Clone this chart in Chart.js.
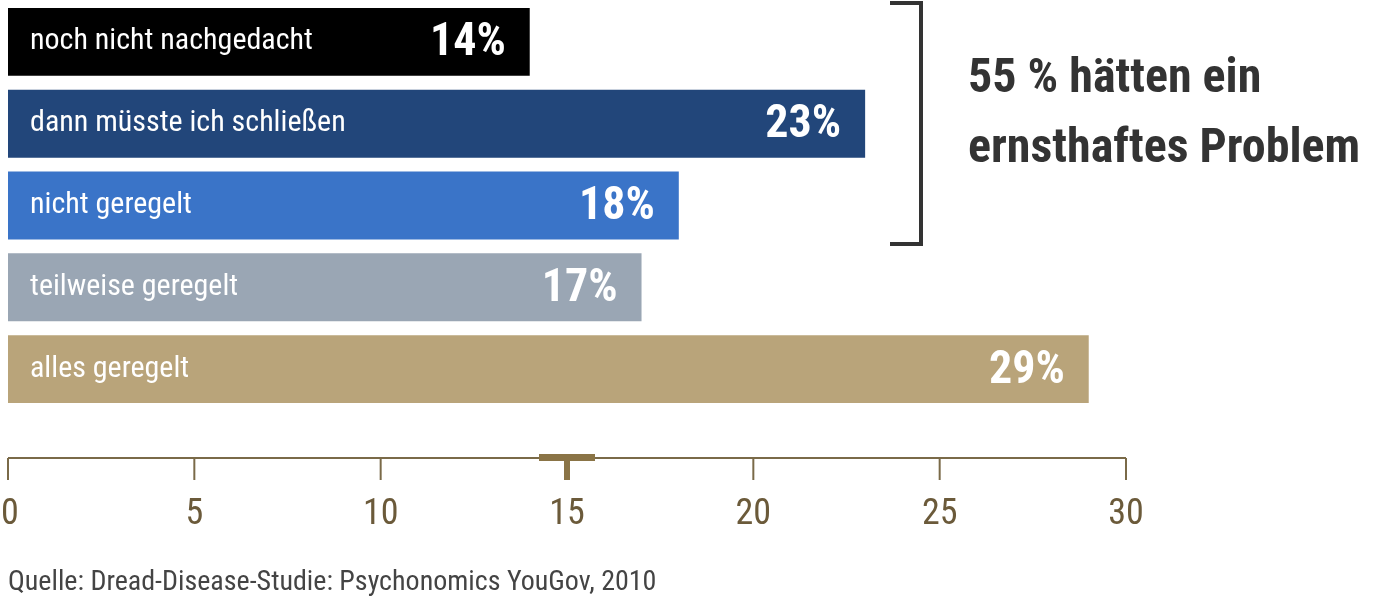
<!DOCTYPE html>
<html>
<head>
<meta charset="utf-8">
<script src="https://cdn.jsdelivr.net/npm/chart.js@4.4.1/dist/chart.umd.min.js"></script>
<style>
  html, body { margin: 0; padding: 0; background: #fff; }
  #wrap { position: relative; width: 1400px; height: 602px; }
</style>
</head>
<body>
<div id="wrap"><canvas id="c" width="1400" height="602"></canvas></div>
<script>
const categories = ["noch nicht nachgedacht", "dann müsste ich schließen", "nicht geregelt", "teilweise geregelt", "alles geregelt"];
const values     = [14, 23, 18, 17, 29];
const colours    = ["#000000", "#22467a", "#3a74c8", "#9aa6b4", "#b9a47a"];
const xTicks     = [0, 5, 10, 15, 20, 25, 30];
const markerAt   = 15;
const headline   = ["55 % hätten ein", "ernsthaftes Problem"];
const source     = "Quelle: Dread-Disease-Studie: Psychonomics YouGov, 2010";

const FONT = "'Liberation Sans Narrow', 'Roboto Condensed', 'DejaVu Sans Condensed', sans-serif";
const AXIS = "#7a6a48";

const overlay = {
  id: "overlay",
  afterDatasetsDraw(chart) {
    const ctx = chart.ctx, x = chart.scales.x, meta = chart.getDatasetMeta(0);
    ctx.save();
    // bar labels and values
    meta.data.forEach((bar, i) => {
      ctx.fillStyle = "#fff";
      ctx.textBaseline = "middle";
      ctx.textAlign = "left";
      ctx.font = "30px " + FONT;
      ctx.fillText(categories[i], 30, bar.y);
      ctx.textAlign = "right";
      ctx.font = "bold 46px " + FONT;
      ctx.fillText(values[i] + "%", bar.x - 24, bar.y + 2);
    });

    // axis
    const yAx = 458;
    ctx.strokeStyle = AXIS; ctx.lineWidth = 2;
    ctx.beginPath(); ctx.moveTo(x.getPixelForValue(0), yAx); ctx.lineTo(x.getPixelForValue(30), yAx); ctx.stroke();
    ctx.fillStyle = "#6b5a3a";
    ctx.font = "36px " + FONT;
    ctx.textAlign = "center"; ctx.textBaseline = "middle";
    xTicks.forEach(t => {
      const px = x.getPixelForValue(t);
      ctx.beginPath(); ctx.moveTo(px, yAx); ctx.lineTo(px, 480); ctx.stroke();
      ctx.fillText(String(t), t === 0 ? px + 2 : px, 515);
    });
    // marker
    const mx = x.getPixelForValue(markerAt);
    ctx.fillStyle = "#8a7446";
    ctx.fillRect(mx - 28, yAx - 4, 56, 7);
    ctx.fillRect(mx - 3, yAx, 6, 22);

    // bracket
    ctx.strokeStyle = "#333"; ctx.lineWidth = 4;
    ctx.beginPath(); ctx.moveTo(890, 3); ctx.lineTo(921, 3); ctx.lineTo(921, 244); ctx.lineTo(890, 244); ctx.stroke();

    ctx.fillStyle = "#333";
    ctx.textAlign = "left"; ctx.textBaseline = "middle";
    ctx.font = "bold 48px " + FONT;
    ctx.fillText(headline[0], 968, 80);
    ctx.fillText(headline[1], 968, 150);

    ctx.fillStyle = "#444";
    ctx.font = "28px " + FONT;
    ctx.fillText(source, 8, 583);
    ctx.restore();
  }
};

new Chart(document.getElementById("c"), {
  type: "bar",
  data: {
    labels: categories,
    datasets: [{ data: values, backgroundColor: colours, barPercentage: 0.83, categoryPercentage: 1 }]
  },
  options: {
    indexAxis: "y",
    responsive: false,
    animation: false,
    layout: { padding: { left: 8, right: 274, top: 1, bottom: 192 } },
    plugins: { legend: { display: false }, tooltip: { enabled: false } },
    scales: {
      x: { display: false, min: 0, max: 30 },
      y: { display: false }
    }
  },
  plugins: [overlay]
});
</script>
</body>
</html>
